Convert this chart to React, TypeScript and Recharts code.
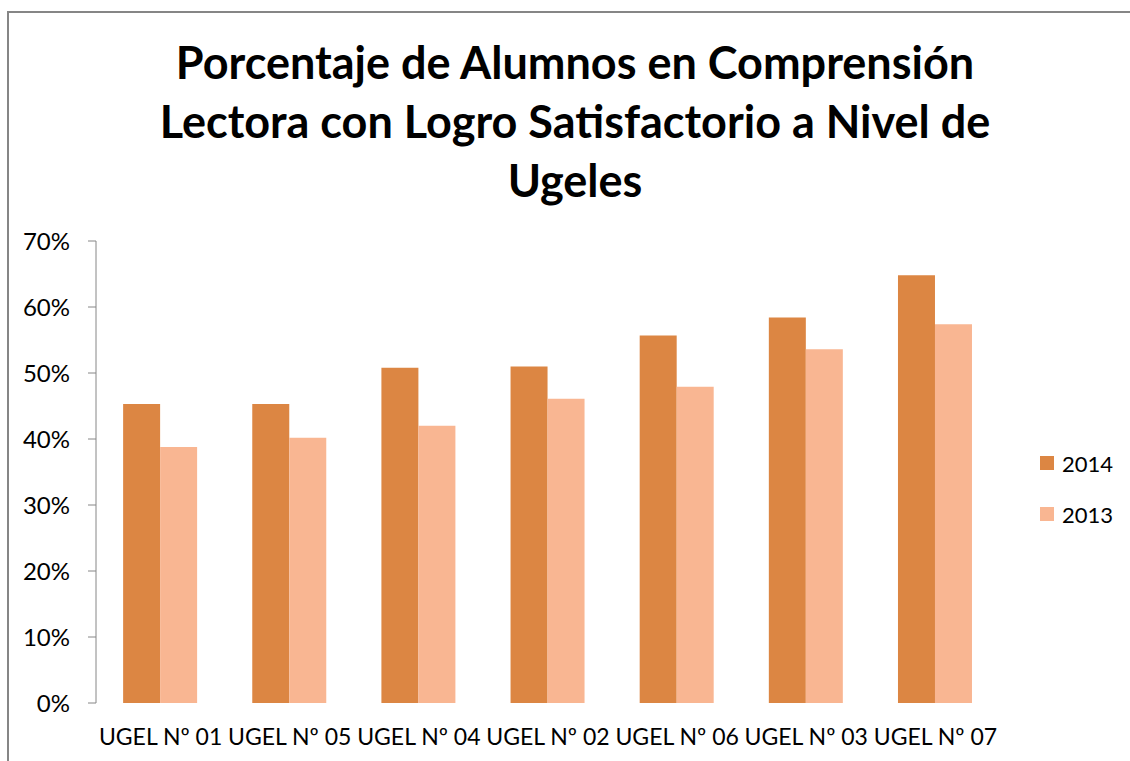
import React from "react";
import { BarChart, Bar, XAxis, YAxis } from "recharts";

const categories = ["UGEL Nº 01", "UGEL Nº 05", "UGEL Nº 04", "UGEL Nº 02", "UGEL Nº 06", "UGEL Nº 03", "UGEL Nº 07"];
const values2014 = [0.453, 0.453, 0.508, 0.51, 0.557, 0.584, 0.648];
const values2013 = [0.388, 0.402, 0.42, 0.461, 0.479, 0.536, 0.574];
const yTicks = [0, 0.1, 0.2, 0.3, 0.4, 0.5, 0.6, 0.7];
const edgeTicks = [0, 1, 2, 3, 4, 5, 6, 7];
const titleLines = ["Porcentaje de Alumnos en Comprensión", "Lectora con Logro Satisfactorio a Nivel de", "Ugeles"];

const COLOR_2014 = "#DC8643";
const COLOR_2013 = "#F9B692";
const AXIS = "#868686";
const FONT = "Lato, 'Open Sans', sans-serif";

const data = categories.map((name, i) => ({
  name,
  edge: i + 0.5,
  y2014: values2014[i],
  y2013: values2013[i],
}));

const pct = (v: number) => `${Math.round(v * 100)}%`;

const LegendBox = () => (
  <div style={{ position: "absolute", left: 1040, top: 452, fontFamily: FONT, fontSize: 22, color: "#000" }}>
    {[
      { label: "2014", color: COLOR_2014 },
      { label: "2013", color: COLOR_2013 },
    ].map((item) => (
      <div key={item.label} style={{ display: "flex", alignItems: "center", height: 22, marginBottom: 29 }}>
        <span style={{ width: 14, height: 14, background: item.color, display: "inline-block", marginRight: 8 }} />
        <span>{item.label}</span>
      </div>
    ))}
  </div>
);

export default function App() {
  return (
    <div style={{ position: "fixed", left: 0, top: 0, width: 1130, height: 761, background: "#fff", overflow: "hidden" }}>
      <div
        style={{
          position: "absolute",
          left: 7,
          top: 11,
          width: 1200,
          height: 800,
          borderLeft: `2px solid ${AXIS}`,
          borderTop: `2px solid ${AXIS}`,
        }}
      />
      <div
        style={{
          position: "absolute",
          left: 0,
          top: 33,
          width: 1150,
          textAlign: "center",
          fontFamily: FONT,
          fontWeight: 700,
          fontSize: 45,
          lineHeight: "59px",
          color: "#000",
        }}
      >
        {titleLines.map((l) => (
          <div key={l}>{l}</div>
        ))}
      </div>
      <div style={{ position: "absolute", left: 0, top: 0 }}>
        <BarChart
          width={1130}
          height={761}
          data={data}
          margin={{ top: 241, right: 130, bottom: 8, left: 0 }}
          barCategoryGap="21%"
          barGap={0}
        >
          <XAxis
            xAxisId="edges"
            type="number"
            dataKey="edge"
            domain={[0, 7]}
            ticks={edgeTicks}
            height={0}
            stroke={AXIS}
            tickSize={7}
            tickFormatter={() => ""}
          />
          <XAxis
            xAxisId="cat"
            dataKey="name"
            height={50}
            axisLine={false}
            tickLine={false}
            interval={0}
            tick={{ fill: "#000", fontSize: 23, fontFamily: FONT }}
            tickMargin={20}
          />
          <YAxis
            width={96}
            domain={[0, 0.7]}
            ticks={yTicks}
            tickFormatter={pct}
            stroke={AXIS}
            tickSize={8}
            tickMargin={18}
            tick={{ fill: "#000", fontSize: 24, fontFamily: FONT }}
          />
          <Bar xAxisId="cat" dataKey="y2014" fill={COLOR_2014} isAnimationActive={false} />
          <Bar xAxisId="cat" dataKey="y2013" fill={COLOR_2013} isAnimationActive={false} />
        </BarChart>
      </div>
      <LegendBox />
    </div>
  );
}
